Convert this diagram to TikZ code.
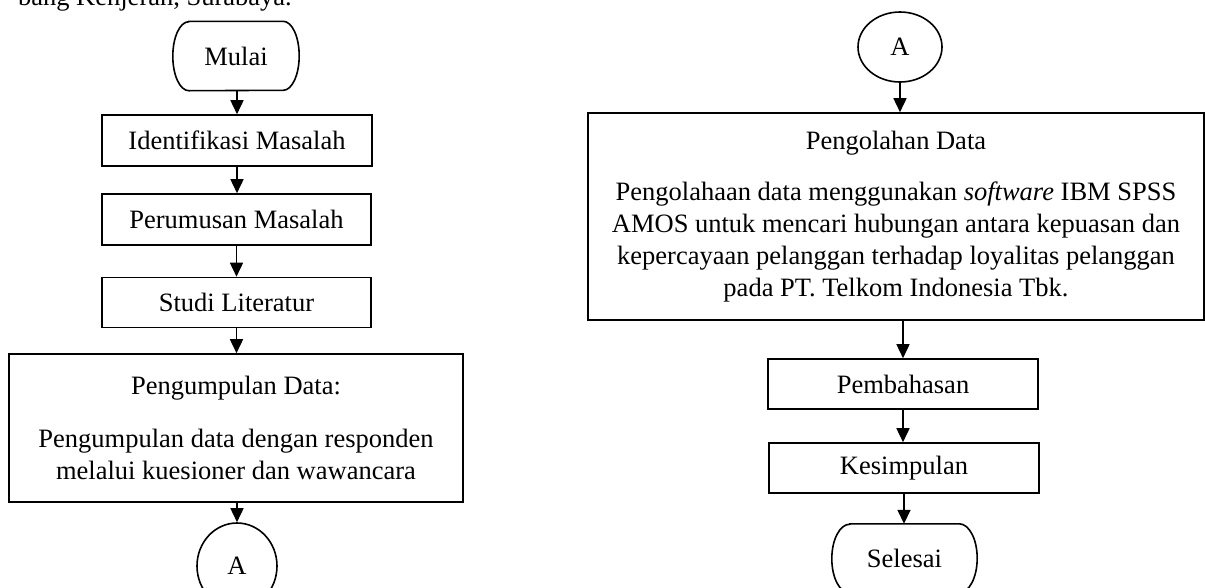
\documentclass[tikz,border=0pt]{standalone}
\usepackage{fontspec}
\setmainfont{Liberation Serif}
\usetikzlibrary{arrows.meta,shapes.geometric}
\begin{document}
\begin{tikzpicture}[x=1pt,y=1pt,
  every node/.style={font=\fontsize{26.5}{32}\selectfont},
  ln/.style={line width=1.6pt},
  boxn/.style={draw,ln,rectangle,inner sep=0pt,align=center},
  termtxt/.style={inner sep=0pt,minimum height=69pt},
  conn/.style={draw,ellipse,ln,inner sep=0pt},
  arr/.style={ln,-{Triangle[length=14pt,width=13pt]}}]
\useasboundingbox (0,0) rectangle (1205,-587);
% cut-off text at top
\node[anchor=base east,inner sep=0pt] (top) at (292,-5.5) {bang Kenjeran, Surabaya.};
% left column
\node[termtxt,minimum width=126pt] (mulai) at (236,-56) {Mulai};
\draw[ln] ([xshift=16pt]mulai.north west) -- ([xshift=-16pt]mulai.north east)
  arc[start angle=90,end angle=-90,x radius=16pt,y radius=34.5pt]
  -- ([xshift=16pt]mulai.south west)
  arc[start angle=270,end angle=90,x radius=16pt,y radius=34.5pt] -- cycle;
\node[boxn,minimum width=270pt,minimum height=51pt] (ident) at (237,-140.5) {Identifikasi Masalah};
\node[boxn,minimum width=269pt,minimum height=51pt] (rumus) at (236.5,-219.5) {Perumusan Masalah};
\node[boxn,minimum width=269pt,minimum height=50pt] (studi) at (236.5,-302.5) {Studi Literatur};
\node[boxn,minimum width=454pt,minimum height=148pt] (kumpul) at (236,-428)
  {Pengumpulan Data:\\[21pt]Pengumpulan data dengan responden\\melalui kuesioner dan wawancara};
\node[conn,minimum width=80pt,minimum height=86pt] (a1) at (237,-566) {A};
\draw[arr] (mulai.south -| ident.north) -- (ident.north);
\draw[arr] (ident.south) -- (ident.south |- rumus.north);
\draw[arr] (rumus.south) -- (rumus.south |- studi.north);
\draw[arr] (studi.south) -- (studi.south |- kumpul.north);
\draw[arr] (kumpul.south -| a1.north) -- (a1.north);
% right column
\node[conn,minimum width=84pt,minimum height=70pt] (a2) at (900,-47) {A};
\node[boxn,minimum width=616pt,minimum height=207pt] (olah) at (896,-216.5)
  {Pengolahan Data\\[19pt]Pengolahaan data menggunakan \textit{software} IBM SPSS\\AMOS untuk mencari hubungan antara kepuasan dan\\kepercayaan pelanggan terhadap loyalitas pelanggan\\pada PT. Telkom Indonesia Tbk.};
\node[boxn,minimum width=270pt,minimum height=50pt] (bahas) at (903,-384) {Pembahasan};
\node[boxn,minimum width=270pt,minimum height=50pt] (simpul) at (904,-468) {Kesimpulan};
\node[termtxt,minimum width=145pt] (selesai) at (904.5,-558.5) {Selesai};
\draw[ln] ([xshift=18pt]selesai.north west) -- ([xshift=-18pt]selesai.north east)
  arc[start angle=90,end angle=-90,x radius=18pt,y radius=34.5pt]
  -- ([xshift=18pt]selesai.south west)
  arc[start angle=270,end angle=90,x radius=18pt,y radius=34.5pt] -- cycle;
\draw[arr] (a2.south) -- (a2.south |- olah.north);
\draw[arr] (bahas.north |- olah.south) -- (bahas.north);
\draw[arr] (bahas.south) -- (bahas.south |- simpul.north);
\draw[arr] (simpul.south) -- (simpul.south |- selesai.north);
\end{tikzpicture}
\end{document}
